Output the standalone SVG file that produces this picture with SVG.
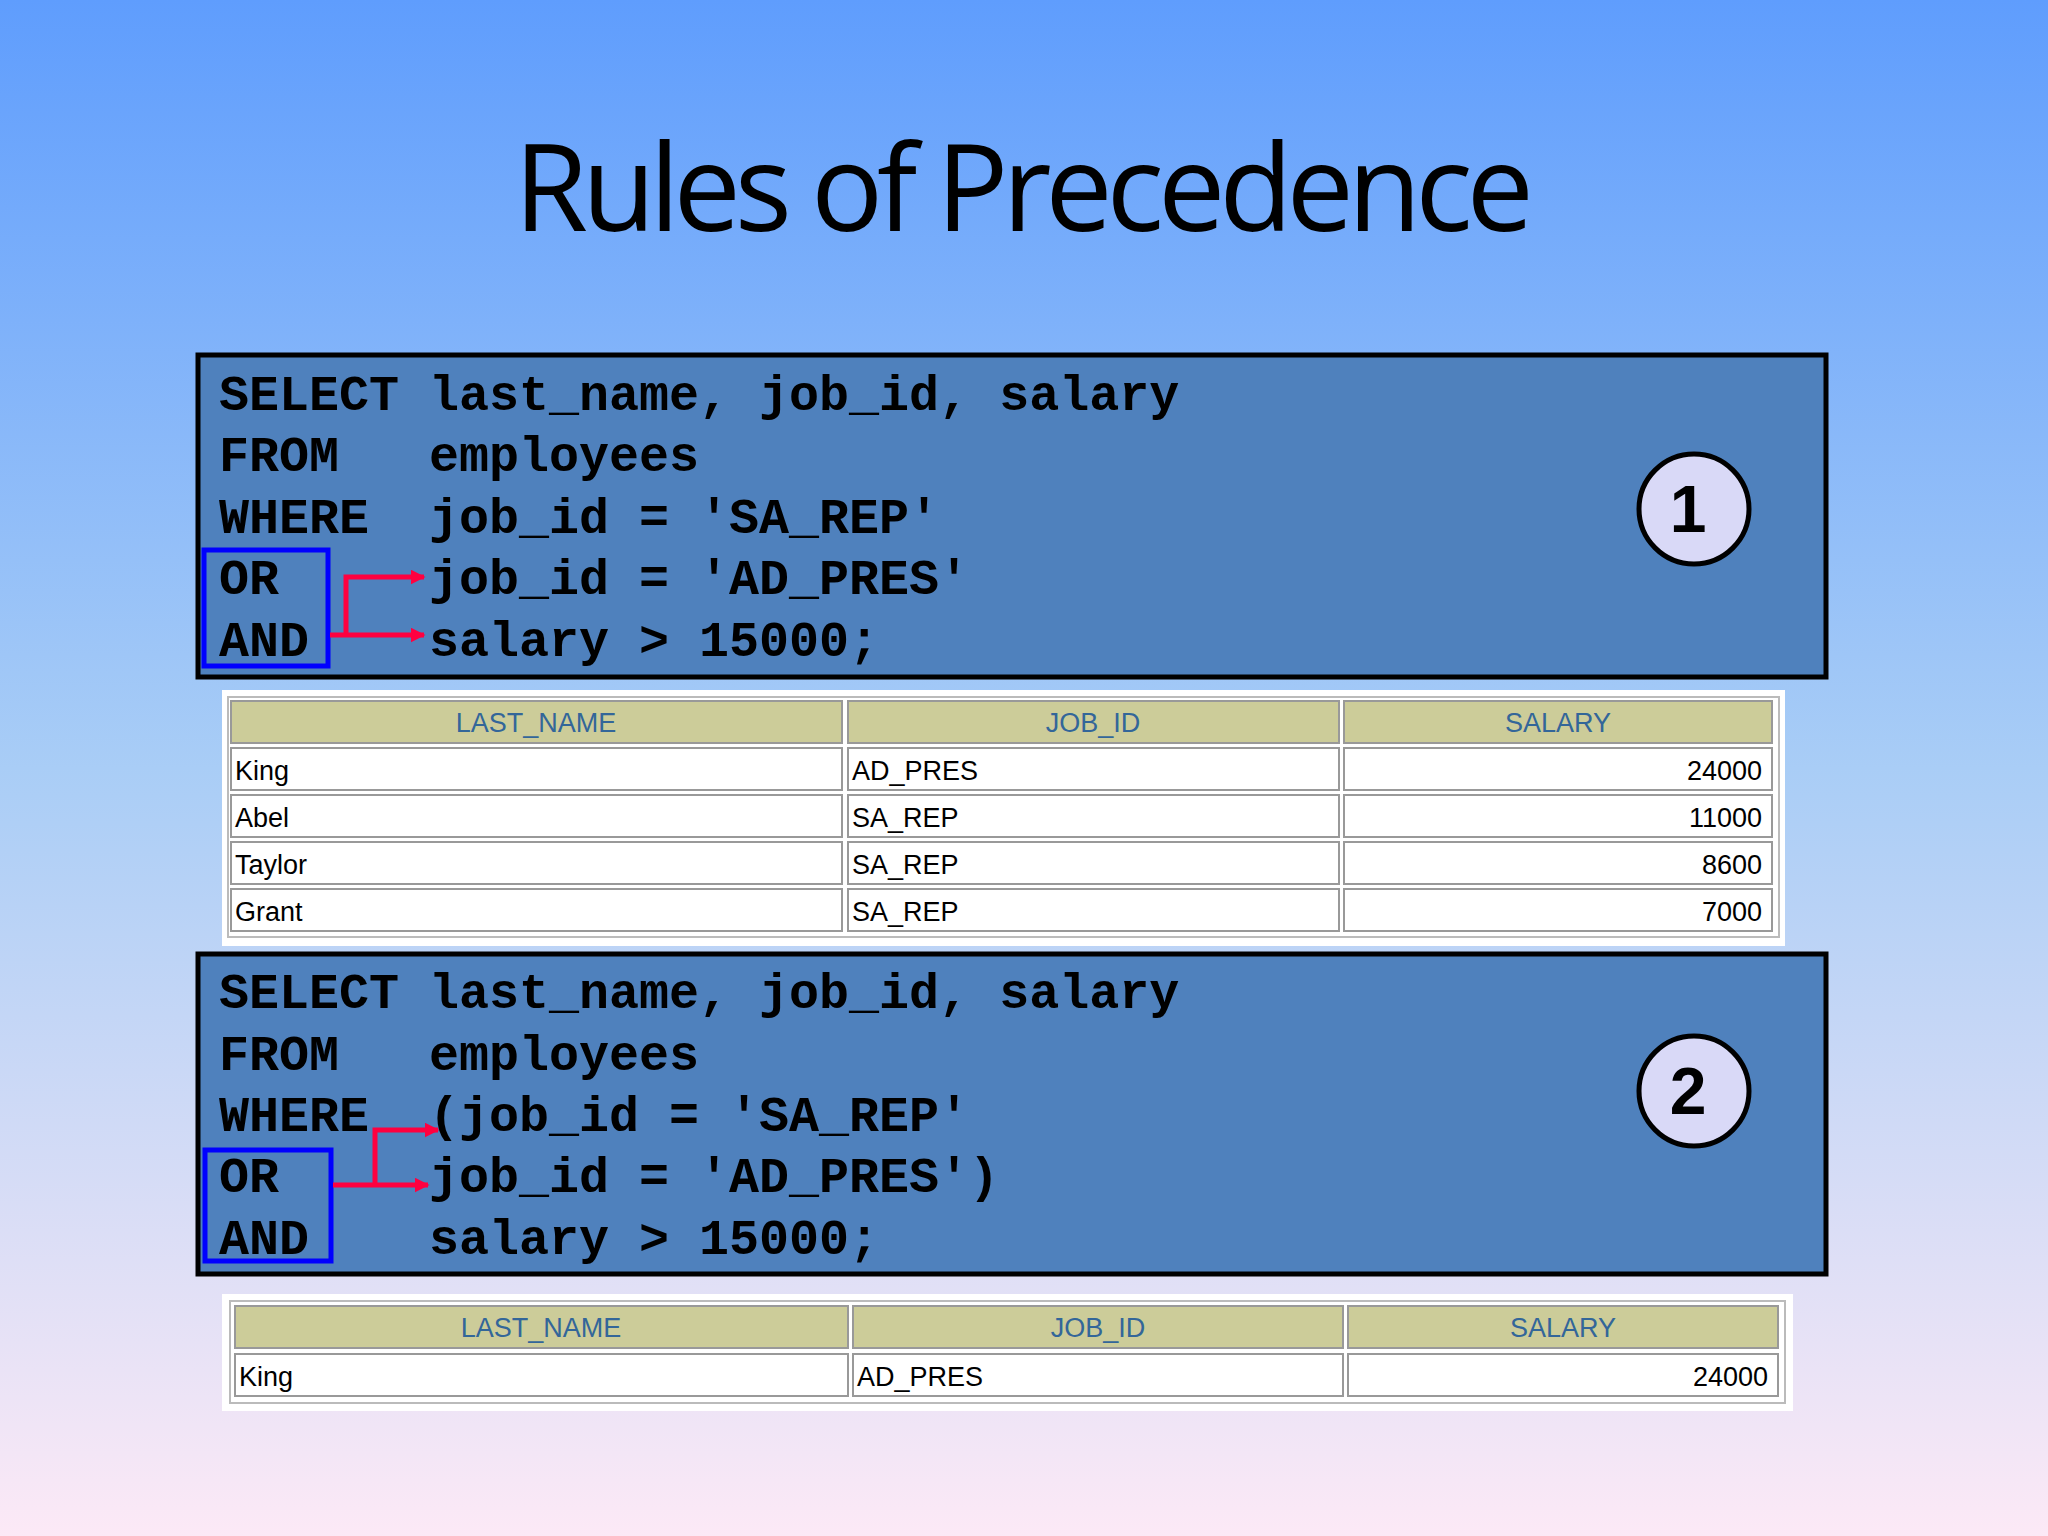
<svg xmlns="http://www.w3.org/2000/svg" width="2048" height="1536" viewBox="0 0 2048 1536">
<defs>
<linearGradient id="bg" x1="0" y1="0" x2="0" y2="1">
<stop offset="0" stop-color="#5f9dfd"/>
<stop offset="0.5" stop-color="#a9cdf6"/>
<stop offset="1" stop-color="#fce9f6"/>
</linearGradient>
<marker id="ar" viewBox="0 0 10 10" refX="9" refY="5" markerWidth="3" markerHeight="3" orient="auto" markerUnits="strokeWidth"><path d="M0,0 L10,5 L0,10 z" fill="#ff0040"/></marker>
<style>
.code{font-family:"Liberation Mono",monospace;font-weight:bold;font-size:50px;fill:#000;white-space:pre}
.box{fill:#4f81bd;stroke:#000;stroke-width:5}
.op{fill:none;stroke:#0000ff;stroke-width:5}
.arr{fill:none;stroke:#ff0040;stroke-width:5;marker-end:url(#ar)}
.circ{fill:#d9d9f7;stroke:#000;stroke-width:5}
.num{font-family:"Liberation Sans",Arial,sans-serif;font-weight:bold;font-size:66px;text-anchor:middle}
.panel{fill:#fff}
.hd{fill:#cccc99;stroke:#999;stroke-width:2}
.cell{fill:#fff;stroke:#999;stroke-width:2}
.ht{font-family:"Liberation Sans",Arial,sans-serif;font-size:27px;fill:#336699;text-anchor:middle}
.ct{font-family:"Liberation Sans",Arial,sans-serif;font-size:27px;fill:#000}
.rt{text-anchor:end}
</style>
</defs>
<rect width="2048" height="1536" fill="url(#bg)"/>
<text x="1024" y="231" font-family="'Open Sans','Liberation Sans',sans-serif" font-size="120" text-anchor="middle" textLength="1020" fill="#000">Rules of Precedence</text>

<g id="query1">
<rect class="box" x="198" y="355" width="1628" height="322"/>
<text class="code" x="219" y="410">SELECT last_name, job_id, salary</text>
<text class="code" x="219" y="471">FROM   employees</text>
<text class="code" x="219" y="533">WHERE  job_id = 'SA_REP'</text>
<text class="code" x="219" y="594">OR     job_id = 'AD_PRES'</text>
<text class="code" x="219" y="656">AND    salary &gt; 15000;</text>
<rect class="op" x="204" y="550" width="124" height="116"/>
</g>
<g id="badge1">
<circle class="circ" cx="1694" cy="509" r="55"/>
<text class="num" x="1688" y="532">1</text>
</g>

<g id="query2">
<rect class="box" x="198" y="954" width="1628" height="320"/>
<text class="code" x="219" y="1008">SELECT last_name, job_id, salary</text>
<text class="code" x="219" y="1070">FROM   employees</text>
<text class="code" x="219" y="1131">WHERE  (job_id = 'SA_REP'</text>
<text class="code" x="219" y="1192">OR     job_id = 'AD_PRES')</text>
<text class="code" x="219" y="1254">AND    salary &gt; 15000;</text>
<rect class="op" x="205" y="1150" width="126" height="111"/>
</g>
<g id="badge2">
<circle class="circ" cx="1694" cy="1091" r="55"/>
<text class="num" x="1688" y="1114">2</text>
</g>

<g id="connectors">
<polyline class="arr" points="346,635 346,577 424,577"/>
<polyline class="arr" points="330,635 424,635"/>
<polyline class="arr" points="375,1185 375,1130 438,1130"/>
<polyline class="arr" points="333,1185 428,1185"/>
</g>

<g id="table1">
<rect class="panel" x="222" y="690" width="1563" height="256"/>
<rect x="228" y="697" width="1551" height="240" fill="none" stroke="#bbb" stroke-width="2"/>
<rect class="hd" x="231" y="701" width="611" height="42"/>
<rect class="hd" x="848" y="701" width="491" height="42"/>
<rect class="hd" x="1344" y="701" width="428" height="42"/>
<text class="ht" x="536" y="732">LAST_NAME</text>
<text class="ht" x="1093" y="732">JOB_ID</text>
<text class="ht" x="1558" y="732">SALARY</text>
<rect class="cell" x="231" y="748" width="611" height="42"/><rect class="cell" x="848" y="748" width="491" height="42"/><rect class="cell" x="1344" y="748" width="428" height="42"/>
<rect class="cell" x="231" y="795" width="611" height="42"/><rect class="cell" x="848" y="795" width="491" height="42"/><rect class="cell" x="1344" y="795" width="428" height="42"/>
<rect class="cell" x="231" y="842" width="611" height="42"/><rect class="cell" x="848" y="842" width="491" height="42"/><rect class="cell" x="1344" y="842" width="428" height="42"/>
<rect class="cell" x="231" y="889" width="611" height="42"/><rect class="cell" x="848" y="889" width="491" height="42"/><rect class="cell" x="1344" y="889" width="428" height="42"/>
<text class="ct" x="235" y="780">King</text><text class="ct" x="852" y="780">AD_PRES</text><text class="ct rt" x="1762" y="780">24000</text>
<text class="ct" x="235" y="827">Abel</text><text class="ct" x="852" y="827">SA_REP</text><text class="ct rt" x="1762" y="827">11000</text>
<text class="ct" x="235" y="874">Taylor</text><text class="ct" x="852" y="874">SA_REP</text><text class="ct rt" x="1762" y="874">8600</text>
<text class="ct" x="235" y="921">Grant</text><text class="ct" x="852" y="921">SA_REP</text><text class="ct rt" x="1762" y="921">7000</text>
</g>

<g id="table2">
<rect class="panel" x="222" y="1294" width="1571" height="117"/>
<rect x="230" y="1301" width="1555" height="102" fill="none" stroke="#bbb" stroke-width="2"/>
<rect class="hd" x="235" y="1306" width="613" height="42"/>
<rect class="hd" x="853" y="1306" width="490" height="42"/>
<rect class="hd" x="1348" y="1306" width="430" height="42"/>
<text class="ht" x="541" y="1337">LAST_NAME</text>
<text class="ht" x="1098" y="1337">JOB_ID</text>
<text class="ht" x="1563" y="1337">SALARY</text>
<rect class="cell" x="235" y="1354" width="613" height="42"/><rect class="cell" x="853" y="1354" width="490" height="42"/><rect class="cell" x="1348" y="1354" width="430" height="42"/>
<text class="ct" x="239" y="1386">King</text><text class="ct" x="857" y="1386">AD_PRES</text><text class="ct rt" x="1768" y="1386">24000</text>
</g>
</svg>
